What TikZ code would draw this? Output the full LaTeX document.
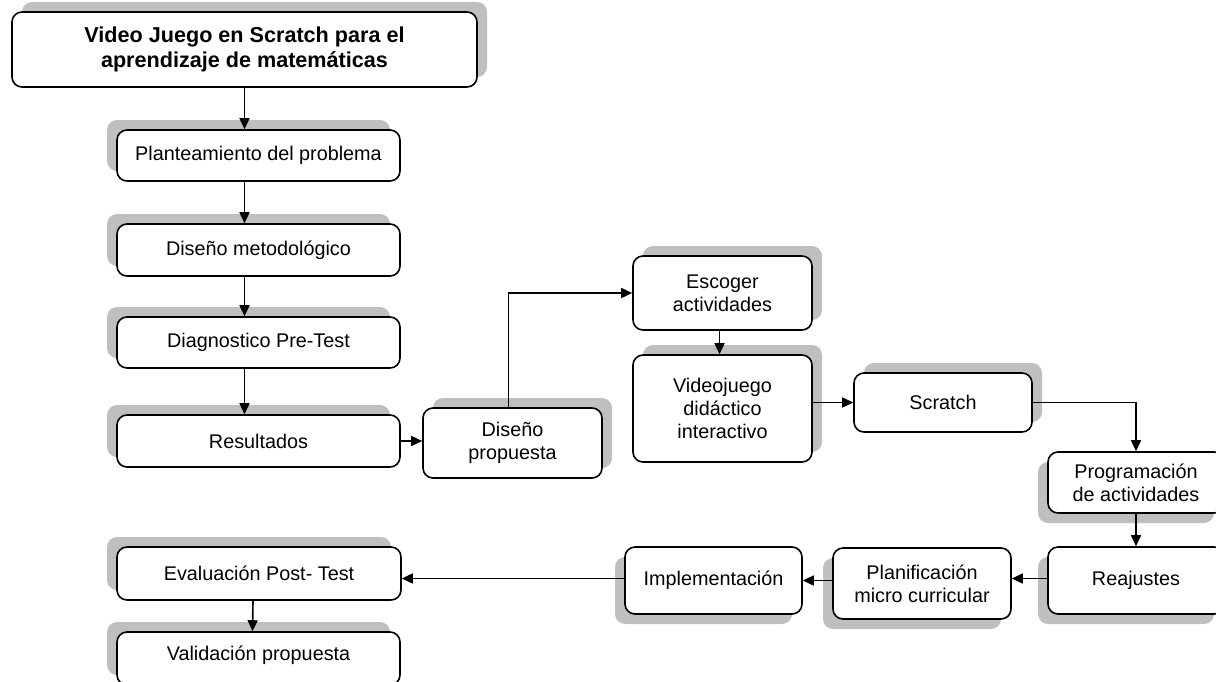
\documentclass[tikz,border=0pt]{standalone}
\usepackage{fontspec}
\setmainfont{Liberation Sans}
\usetikzlibrary{shadows,arrows.meta}
\definecolor{sombra}{RGB}{191,191,191}
\begin{document}
\begin{tikzpicture}[x=0.5pt, y=-0.5pt,
    caja/.style={draw, line width=0.8pt, rounded corners=5pt, fill=white, align=center, inner sep=0pt, font=\fontsize{9.9}{11.6}\selectfont},
    sombraUL/.style={drop shadow={shadow xshift=-5pt, shadow yshift=5pt, fill=sombra, opacity=1}},
    sombraUR/.style={drop shadow={shadow xshift=5pt, shadow yshift=5pt, fill=sombra, opacity=1}},
    sombraDL/.style={drop shadow={shadow xshift=-5pt, shadow yshift=-5pt, fill=sombra, opacity=1}},
    flecha/.style={-{Triangle[length=5.5pt, width=5pt]}, line width=0.8pt}]
    \useasboundingbox (0, 0) rectangle (1216, 681);

    \node [caja, sombraUR, minimum width=232.5pt, minimum height=37.5pt, font=\bfseries\fontsize{10.8}{12.7}\selectfont] (titulo) at (244.5, 49.5) {Video Juego en Scratch para el\\aprendizaje de matemáticas};
    \node [caja, sombraUL, minimum width=141.5pt, minimum height=25.5pt] (plant) at (258.5, 155.5) {Planteamiento del problema};
    \node [caja, sombraUL, minimum width=141.5pt, minimum height=26pt] (metod) at (258.5, 250) {Diseño metodológico};
    \node [caja, sombraUL, minimum width=141.5pt, minimum height=25.5pt] (diag) at (258.5, 342.5) {Diagnostico Pre-Test};
    \node [caja, sombraUL, minimum width=141.5pt, minimum height=26pt] (result) at (258.5, 441) {Resultados};
    \node [caja, sombraUR, minimum width=89.5pt, minimum height=35pt] (dprop) at (512.5, 443) {Diseño\\propuesta};
    \node [caja, sombraUR, minimum width=89.5pt, minimum height=37pt] (escoger) at (722.5, 293) {Escoger\\actividades};
    \node [caja, sombraUR, minimum width=89.5pt, minimum height=53.5pt] (video) at (722.5, 408.5) {Videojuego\\didáctico\\interactivo};
    \node [caja, sombraUR, minimum width=89pt, minimum height=29.5pt] (scratch) at (943, 402.5) {Scratch};
    \node [caja, sombraDL, minimum width=88pt, minimum height=30.5pt] (program) at (1136, 482.5) {Programación\\de actividades};
    \node [caja, sombraDL, minimum width=88pt, minimum height=33.5pt] (reaj) at (1136, 580.5) {Reajustes};
    \node [caja, sombraDL, minimum width=89pt, minimum height=35.5pt] (planif) at (922, 583.5) {Planificación\\micro curricular};
    \node [caja, sombraDL, minimum width=88.5pt, minimum height=33.5pt] (impl) at (713.5, 580.5) {Implementación};
    \node [caja, sombraUL, minimum width=142pt, minimum height=26.5pt] (eval) at (259, 573.5) {Evaluación Post- Test};
    \node [caja, sombraUL, minimum width=141.5pt, minimum height=26.5pt, text depth=0pt] (valid) at (258.5, 658.5) {\raisebox{5pt}{Validación propuesta}};

    \draw [flecha] (titulo.south) -- (titulo.south |- plant.north);
    \draw [flecha] (plant.south -| titulo.south) -- (metod.north -| titulo.south);
    \draw [flecha] (metod.south -| titulo.south) -- (diag.north -| titulo.south);
    \draw [flecha] (diag.south -| titulo.south) -- (result.north -| titulo.south);
    \draw [flecha] (result.east) -- (result.east -| dprop.west);
    \draw [flecha] ([xshift=-2pt]dprop.north) |- (escoger.west);
    \draw [flecha] ([xshift=-1.5pt]escoger.south) -- ([xshift=-1.5pt]video.north);
    \draw [flecha] (video.east |- scratch.west) -- (scratch.west);
    \draw [flecha] (scratch.east) -| (program.north);
    \draw [flecha] (program.south) -- (reaj.north);
    \draw [flecha] ([yshift=1pt]reaj.west) -- ([yshift=1pt]reaj.west -| planif.east);
    \draw [flecha] (impl.east -| planif.west) -- (impl.east);
    \draw [flecha] ([yshift=1pt]impl.west) -- ([yshift=1pt]impl.west -| eval.east);
    \draw [flecha] ([xshift=-3pt]eval.south) -- ([xshift=-3pt]valid.north);
\end{tikzpicture}
\end{document}
